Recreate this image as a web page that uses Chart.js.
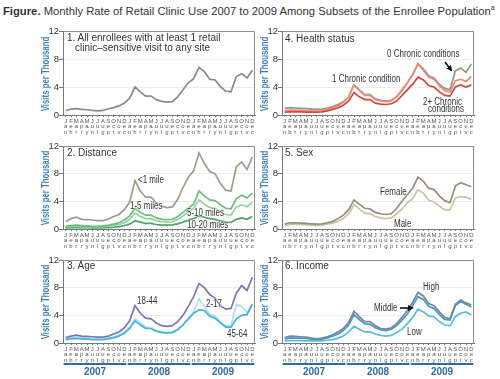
<!DOCTYPE html>
<html><head><meta charset="utf-8">
<script src="https://cdn.jsdelivr.net/npm/chart.js@4.4.1/dist/chart.umd.min.js"></script>
<style>
html,body{margin:0;padding:0;background:#fff;width:500px;height:379px;overflow:hidden;position:relative;font-family:"Liberation Sans",Arial,sans-serif;}
canvas{position:absolute;}
.t{position:absolute;white-space:nowrap;color:#333;}
#title{left:3px;top:1px;font-size:12px;color:#333;line-height:14px}
.pt{font-size:10px;line-height:10px;color:#333}
.an{font-size:10px;line-height:10px;color:#333;transform:scaleX(0.8);transform-origin:0 0;text-shadow:0 0 2px #fff,0 0 2px #fff,0 0 1px #fff;}
.yt{position:absolute;white-space:nowrap;font-size:10px;font-weight:bold;color:#3f80bb;line-height:10px;transform:translate(-50%,-50%) rotate(-90deg) scaleX(0.78);}
svg{position:absolute;left:0;top:0;}
</style></head><body>
<div id="title" class="t"><b>Figure.</b> Monthly Rate of Retail Clinic Use 2007 to 2009 Among Subsets of the Enrollee Population<sup style="font-size:7px">a</sup></div>

<canvas id="c1" width="218" height="114" style="left:40px;top:23px"></canvas>
<canvas id="c2" width="218" height="113" style="left:40px;top:138px"></canvas>
<canvas id="c3" width="218" height="127" style="left:40px;top:252px"></canvas>
<canvas id="c4" width="218" height="114" style="left:259px;top:23px"></canvas>
<canvas id="c5" width="218" height="113" style="left:259px;top:138px"></canvas>
<canvas id="c6" width="218" height="127" style="left:259px;top:252px"></canvas>

<div class="yt" style="left:46px;top:74px">Visits per Thousand</div>
<div class="yt" style="left:46px;top:188px">Visits per Thousand</div>
<div class="yt" style="left:46px;top:302px">Visits per Thousand</div>
<div class="yt" style="left:265px;top:74px">Visits per Thousand</div>
<div class="yt" style="left:265px;top:188px">Visits per Thousand</div>
<div class="yt" style="left:265px;top:302px">Visits per Thousand</div>

<div class="t pt" style="left:67px;top:33px">1. All enrollees with at least 1 retail</div>
<div class="t pt" style="left:75px;top:43px">clinic–sensitive visit to any site</div>
<div class="t pt" style="left:67px;top:148px">2. Distance</div>
<div class="t pt" style="left:67px;top:261px">3. Age</div>
<div class="t pt" style="left:285px;top:34px">4. Health status</div>
<div class="t pt" style="left:285px;top:148px">5. Sex</div>
<div class="t pt" style="left:285px;top:261px">6. Income</div>

<div class="t an" style="left:138px;top:175px">&lt;1 mile</div>
<div class="t an" style="left:130px;top:201px">1-5 miles</div>
<div class="t an" style="left:187px;top:208px">5-10 miles</div>
<div class="t an" style="left:187px;top:220px">10-20 miles</div>
<div class="t an" style="left:137px;top:296px">18-44</div>
<div class="t an" style="left:206px;top:299px">2-17</div>
<div class="t an" style="left:227px;top:329px">45-64</div>
<div class="t an" style="left:387px;top:49px">0 Chronic conditions</div>
<div class="t an" style="left:332px;top:74px">1 Chronic condition</div>
<div class="t an" style="left:423px;top:97px">2+ Chronic</div>
<div class="t an" style="left:428px;top:104px">conditions</div>
<div class="t an" style="left:380px;top:187px">Female</div>
<div class="t an" style="left:394px;top:219px">Male</div>
<div class="t an" style="left:423px;top:282px">High</div>
<div class="t an" style="left:374px;top:303px">Middle</div>
<div class="t an" style="left:407px;top:327px">Low</div>

<svg width="500" height="379">
<defs><marker id="ah" markerWidth="6" markerHeight="6" refX="4" refY="3" orient="auto" markerUnits="userSpaceOnUse"><path d="M0,0 L6,3 L0,6 z" fill="#111"/></marker></defs>
<line x1="445" y1="62" x2="451" y2="70" stroke="#111" stroke-width="1.6" marker-end="url(#ah)"/>
<line x1="400" y1="308" x2="412" y2="308" stroke="#111" stroke-width="1.6" marker-end="url(#ah)"/>
</svg>

<script>
const monthNames = ['Jan','Feb','Mar','Apr','May','Jun','Jul','Aug','Sep','Oct','Nov','Dec'];
const years = ['2007','2008','2009'];
const yTicks = [0,2,4,6,8,10,12];

// Panel 1: all enrollees
const allEnrollees = [0.6,0.85,0.9,0.8,0.75,0.65,0.6,0.65,0.9,1.05,1.3,1.7, 2.4,4.0,3.3,2.7,2.7,2.2,1.95,1.85,1.9,2.6,3.6,4.6, 5.2,6.8,6.2,5.1,5.0,4.1,3.4,3.3,5.5,5.9,5.3,6.4];
// Panel 2: distance
const distLt1 = [1.1,1.5,1.7,1.4,1.35,1.3,1.2,1.2,1.45,1.8,2.1,2.8, 3.9,7.0,5.5,4.6,4.6,3.8,3.3,3.1,3.2,4.3,6.0,7.5, 8.4,11.0,9.5,8.3,8.0,6.6,5.6,5.5,9.0,9.7,8.6,10.4];
const dist1to5 = [0.4,0.5,0.55,0.5,0.45,0.4,0.4,0.45,0.55,0.7,0.9,1.3, 1.9,3.0,2.4,2.0,2.0,1.6,1.4,1.35,1.4,1.8,2.4,3.0, 3.6,5.5,4.8,4.2,4.1,3.5,3.0,2.9,4.4,4.9,4.5,5.2];
const dist5to10 = [0.3,0.35,0.4,0.35,0.3,0.3,0.3,0.3,0.4,0.5,0.65,0.9, 1.4,2.3,1.8,1.5,1.5,1.2,1.05,1.0,1.05,1.4,1.9,2.5, 3.0,4.2,3.6,3.1,3.0,2.5,2.1,2.0,3.2,3.5,3.2,3.9];
const dist10to20 = [0.15,0.2,0.2,0.2,0.2,0.15,0.15,0.15,0.2,0.25,0.35,0.5, 0.7,1.2,1.0,0.8,0.8,0.65,0.55,0.55,0.6,0.75,1.0,1.3, 1.5,1.9,1.7,1.5,1.4,1.2,1.0,0.95,1.4,1.6,1.4,1.8];
// Panel 3: age
const age18to44 = [0.8,1.0,1.15,1.0,0.95,0.9,0.85,0.85,1.0,1.3,1.6,2.2, 3.2,5.4,4.3,3.6,3.5,2.9,2.5,2.4,2.5,3.1,4.0,5.3, 6.7,8.6,8.0,7.0,6.5,5.4,4.9,5.0,7.2,8.3,7.6,9.5];
const age2to17 = [0.6,0.75,0.8,0.75,0.7,0.6,0.55,0.55,0.7,0.9,1.1,1.6, 2.3,3.5,2.9,2.3,2.2,1.8,1.6,1.5,1.6,2.0,2.7,3.4, 4.5,6.4,5.2,4.2,3.9,3.1,2.5,2.5,5.6,5.3,4.4,5.7];
const age45to64 = [0.5,0.6,0.65,0.6,0.55,0.5,0.5,0.5,0.6,0.75,1.0,1.4, 2.1,3.2,2.6,2.1,2.1,1.7,1.5,1.45,1.5,1.9,2.6,3.5, 4.3,4.8,4.7,3.9,3.6,2.9,2.3,2.3,3.5,4.0,4.1,5.6];
// Panel 4: health status
const chronic0 = [0.9,1.05,1.0,0.95,0.9,0.85,0.8,0.85,1.0,1.2,1.5,1.9, 2.6,4.3,3.6,2.9,2.9,2.3,2.1,2.0,2.1,2.6,3.5,4.6, 5.7,7.3,6.6,5.6,5.3,4.4,3.8,3.6,6.3,6.7,6.1,7.3];
const chronic1 = [0.6,0.7,0.7,0.65,0.6,0.55,0.55,0.6,0.8,1.0,1.3,1.8, 2.6,4.3,3.5,2.8,2.8,2.2,2.0,1.9,2.0,2.6,3.6,4.6, 5.8,7.3,6.4,5.4,5.1,4.2,3.5,3.3,4.9,5.1,4.8,5.5];
const chronic2 = [0.4,0.45,0.45,0.45,0.4,0.4,0.4,0.45,0.6,0.8,1.0,1.4, 2.0,3.2,2.6,2.2,2.2,1.7,1.55,1.5,1.6,2.0,2.8,3.6, 4.4,5.4,5.0,4.2,4.0,3.3,2.8,2.7,4.0,4.3,4.0,4.3];
// Panel 5: sex
const female = [0.7,0.9,0.9,0.85,0.8,0.75,0.7,0.75,0.9,1.1,1.5,2.0, 2.8,4.2,3.6,3.0,2.9,2.4,2.2,2.1,2.2,3.0,4.0,5.0, 5.9,7.5,6.9,5.9,5.7,4.8,4.1,3.8,6.2,6.7,6.4,6.1];
const male = [0.5,0.65,0.7,0.65,0.6,0.55,0.5,0.55,0.7,0.85,1.1,1.5, 2.2,3.5,2.9,2.3,2.2,1.8,1.6,1.5,1.6,2.2,2.9,3.8, 4.4,5.7,5.2,4.2,3.9,3.3,2.8,2.7,4.5,4.7,4.6,4.3];
// Panel 6: income
const incHigh = [0.8,1.0,0.95,0.9,0.85,0.7,0.6,0.7,0.9,1.2,1.6,2.1, 3.0,4.6,3.8,3.1,3.1,2.5,2.1,2.0,2.2,2.8,3.7,4.7, 5.9,7.3,6.8,5.7,5.4,4.5,3.7,3.5,5.6,6.2,5.8,5.5];
const incMiddle = [0.6,0.75,0.7,0.7,0.65,0.55,0.5,0.55,0.75,1.0,1.3,1.8, 2.6,4.1,3.4,2.8,2.7,2.2,1.9,1.8,2.0,2.5,3.3,4.2, 5.4,6.7,6.3,5.3,5.0,4.1,3.4,3.3,5.4,6.0,5.6,5.2];
const incLow = [0.3,0.35,0.35,0.35,0.3,0.3,0.3,0.3,0.4,0.5,0.7,1.0, 1.6,2.4,2.0,1.6,1.6,1.3,1.1,1.0,1.1,1.5,2.0,2.8, 3.7,4.9,4.5,3.9,3.8,3.1,2.6,2.5,3.8,4.3,4.5,4.1];

const labels = [];
years.forEach(() => monthNames.forEach(m => labels.push(m.split(''))));

const boxPlugin = {
  id: 'box',
  afterDatasetsDraw(chart) {
    const {ctx, chartArea: a} = chart;
    ctx.save();
    ctx.strokeStyle = '#8f8f8f';
    ctx.lineWidth = 1;
    ctx.beginPath();
    ctx.moveTo(a.left, Math.round(a.top) + 0.5);
    ctx.lineTo(Math.round(a.right) - 0.5, Math.round(a.top) + 0.5);
    ctx.lineTo(Math.round(a.right) - 0.5, a.bottom);
    ctx.stroke();
    ctx.restore();
  }
};
const yearPlugin = {
  id: 'years',
  afterDraw(chart, args, opts) {
    if (!opts.show) return;
    const ctx = chart.ctx, xs = chart.scales.x;
    const yl = chart.chartArea.bottom + 21;
    ctx.save();
    ctx.strokeStyle = '#2e6ca4';
    ctx.fillStyle = '#2e6ca4';
    ctx.lineWidth = 2;
    ctx.font = 'bold 10px "Liberation Sans", Arial, sans-serif';
    ctx.textAlign = 'center';
    ctx.textBaseline = 'middle';
    years.forEach((yr, i) => {
      const x1 = xs.getPixelForValue(i * 12) - 2;
      const x2 = xs.getPixelForValue(i * 12 + 11) + 2;
      ctx.beginPath(); ctx.moveTo(x1, yl); ctx.lineTo(x2, yl); ctx.stroke();
      ctx.fillText(yr, (x1 + x2) / 2, yl + 8.5);
    });
    ctx.restore();
  }
};

function makeChart(id, series, withYears) {
  new Chart(document.getElementById(id), {
    type: 'line',
    data: {
      labels: labels,
      datasets: series.map(s => ({
        data: s.data, borderColor: s.color, borderWidth: 1.7,
        pointRadius: 0, tension: 0, fill: false
      }))
    },
    options: {
      responsive: false, animation: false, devicePixelRatio: 1,
      layout: {padding: {top: 8, right: 3, left: 0, bottom: 0}},
      plugins: {legend: {display: false}, tooltip: {enabled: false}, years: {show: withYears}},
      scales: {
        x: {
          offset: true,
          afterFit: s => { s.height = withYears ? 36 : 22; },
          grid: {drawOnChartArea: false, tickLength: 2, color: '#777'},
          border: {color: '#777'},
          ticks: {autoSkip: false, maxRotation: 0, minRotation: 0, padding: 1,
                  color: '#555', font: {size: 6, family: '"Liberation Sans", Arial', lineHeight: 0.95}}
        },
        y: {
          min: 0, max: 12,
          afterFit: s => { s.width = 23; },
          afterBuildTicks: s => { s.ticks = yTicks.map(v => ({value: v})); },
          grid: {color: '#ececec', tickLength: 4, tickColor: '#777'},
          border: {color: '#777'},
          ticks: {padding: 0, color: '#333', font: {size: 9.5, family: '"Liberation Sans", Arial'}},
          title: {display: false}
        }
      }
    },
    plugins: [boxPlugin, yearPlugin]
  });
}

makeChart('c1', [{data: allEnrollees, color: '#8a8a8a'}], false);
makeChart('c2', [
  {data: distLt1, color: '#a09a88'},
  {data: dist1to5, color: '#6dbd7c'},
  {data: dist5to10, color: '#8fd39c'},
  {data: dist10to20, color: '#4fa463'}], false);
makeChart('c3', [
  {data: age18to44, color: '#7c76b6'},
  {data: age45to64, color: '#45b2d8'},
  {data: age2to17, color: '#aee0ee'}], true);
makeChart('c4', [
  {data: chronic2, color: '#d4483e'},
  {data: chronic1, color: '#ee8878'},
  {data: chronic0, color: '#8c9c84'}], false);
makeChart('c5', [
  {data: female, color: '#968d7c'},
  {data: male, color: '#cdc1a0'}], false);
makeChart('c6', [
  {data: incHigh, color: '#71889e'},
  {data: incMiddle, color: '#4a98c8'},
  {data: incLow, color: '#55bfe0'}], true);

// fit title to width
const t = document.getElementById('title');
let fs = 12;
while (t.offsetWidth > 494 && fs > 8) { fs -= 0.25; t.style.fontSize = fs + 'px'; }
</script>
</body></html>
